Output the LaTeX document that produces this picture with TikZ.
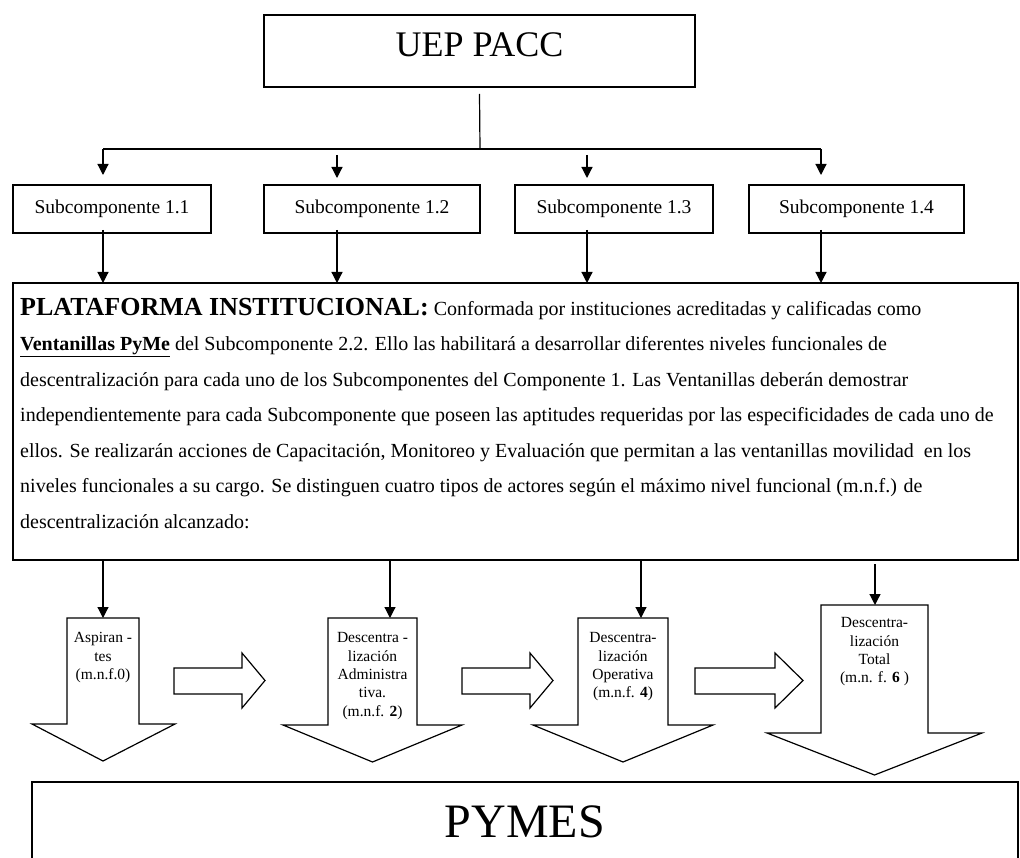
\documentclass[tikz,border=0pt]{standalone}
\usepackage{fontspec}
\setmainfont{Liberation Serif}
\usetikzlibrary{arrows.meta}
\begin{document}
\begin{tikzpicture}[x=1pt,y=-1pt,
  box/.style={draw, line width=1.2pt, inner sep=0pt, outer sep=0pt},
  conn/.style={line width=1.2pt, -{Triangle[width=11pt,length=11pt]}},
  plain/.style={line width=1.2pt},
  blk/.style={draw, line width=1.2pt, line join=miter, fill=white},
  arrtxt/.style={align=center, inner sep=0pt, font=\fontsize{15.5}{18.3}\selectfont},
  subfont/.style={font=\fontsize{19.5}{23}\selectfont}
]
\useasboundingbox (0,0) rectangle (1020,858);
\clip (0,0) rectangle (1020,858);

% top box
\node[box, minimum width=431pt, minimum height=72pt, text height=24pt, text depth=12pt,
      font=\fontsize{36}{40}\selectfont] (uep) at (479.5,51) {UEP PACC};

% subcomponent boxes
\node[box, subfont, minimum width=198pt, minimum height=48pt] (s1) at (112,209) {Subcomponente 1.1};
\node[box, subfont, minimum width=216pt, minimum height=48pt] (s2) at (372,209) {Subcomponente 1.2};
\node[box, subfont, minimum width=198pt, minimum height=48pt] (s3) at (614,209) {Subcomponente 1.3};
\node[box, subfont, minimum width=215pt, minimum height=48pt] (s4) at (856.5,209) {Subcomponente 1.4};

% platform
\node[box, minimum width=1005pt, minimum height=277pt] (plat) at (515.5,421.5) {};
\node[anchor=north west, inner sep=0pt, align=left, font=\fontsize{20}{35.5}\selectfont] (ptxt) at (20,298)
{{\bfseries\fontsize{26}{35.5}\selectfont PLATAFORMA INSTITUCIONAL:} Conformada por instituciones acreditadas y calificadas como\\
\underline{\textbf{Ventanillas PyMe}} del Subcomponente 2.2. Ello las habilitará a desarrollar diferentes niveles funcionales de\\
descentralización para cada uno de los Subcomponentes del Componente 1. Las Ventanillas deberán demostrar\\
independientemente para cada Subcomponente que poseen las aptitudes requeridas por las especificidades de cada uno de\\
ellos. Se realizarán acciones de Capacitación, Monitoreo y Evaluación que permitan a las ventanillas movilidad\ \ en los\\
niveles funcionales a su cargo. Se distinguen cuatro tipos de actores según el máximo nivel funcional (m.n.f.) de\\
descentralización alcanzado:};

% bus from top box
\coordinate (bus) at (480,149);
\coordinate (b1) at (103,149);
\coordinate (b4) at (821,149);
\coordinate (k2) at (337,155);
\coordinate (k3) at (587,155);
\draw[plain] ([yshift=-7pt]uep.south) -- (bus);
\draw[plain] (b1) -- (b4);
\draw[conn, shorten >=10pt] (b1) -- (b1 |- s1.north);
\draw[conn, shorten >=7pt] (k2) -- (k2 |- s2.north);
\draw[conn, shorten >=7pt] (k3) -- (k3 |- s3.north);
\draw[conn, shorten >=10pt] (b4) -- (b4 |- s4.north);

% subcomponents to platform
\draw[conn] ([yshift=3pt]b1 |- s1.south) -- (b1 |- plat.north);
\draw[conn] ([yshift=3pt]k2 |- s2.south) -- (k2 |- plat.north);
\draw[conn] ([yshift=3pt]k3 |- s3.south) -- (k3 |- plat.north);
\draw[conn] ([yshift=3pt]b4 |- s4.south) -- (b4 |- plat.north);

% block down arrows
\draw[blk] (67,618) -- (139,618) -- (139,724) -- (175,724) -- (103,761) -- (32,724) -- (67,724) -- cycle;
\draw[blk] (328,618) -- (417,618) -- (417,725) -- (462,725) -- (372.5,762) -- (283,725) -- (328,725) -- cycle;
\draw[blk] (578,618) -- (668,618) -- (668,725) -- (713,725) -- (623,762) -- (533,725) -- (578,725) -- cycle;
\draw[blk] (821,605) -- (928,605) -- (928,733) -- (982,733) -- (874.5,775) -- (767,733) -- (821,733) -- cycle;

% block right arrows
\draw[blk] (174,668) -- (242,668) -- (242,653) -- (265,680.5) -- (242,708) -- (242,694) -- (174,694) -- cycle;
\draw[blk] (462,668) -- (530,668) -- (530,653) -- (553,680.5) -- (530,708) -- (530,694) -- (462,694) -- cycle;
\draw[blk] (695,668) -- (775,668) -- (775,653) -- (803,680.5) -- (775,708) -- (775,694) -- (695,694) -- cycle;

% texts in block arrows
\node[arrtxt, anchor=north] (a1) at (103,632.5) {Aspiran -\\tes\\(m.n.f.0)};
\node[arrtxt, anchor=north] (a2) at (372.5,632.5) {Descentra -\\lización\\Administra\\tiva.\\(m.n.f. \textbf{2})};
\node[arrtxt, anchor=north] (a3) at (623,632.5) {Descentra-\\lización\\Operativa\\(m.n.f. \textbf{4})};
\node[arrtxt, anchor=north] (a4) at (874.5,617.5) {Descentra-\\lización\\Total\\(m.n. f. \textbf{6} )};

% platform to block arrows
\coordinate (t1) at (103,618);
\coordinate (t2) at (390,618);
\coordinate (t3) at (641,618);
\coordinate (t4) at (875,605);
\draw[conn] (t1 |- plat.south) -- (t1);
\draw[conn] (t2 |- plat.south) -- (t2);
\draw[conn] (t3 |- plat.south) -- (t3);
\draw[conn, shorten <=4pt] (t4 |- plat.south) -- (t4);

% PYMES
\node[box, minimum width=986pt, minimum height=120pt, anchor=north] (pymes) at (525,782) {};
\node[anchor=base, inner sep=0pt, font=\fontsize{48}{52}\selectfont] (pymestxt) at (525,837) {PYMES};
\end{tikzpicture}
\end{document}
